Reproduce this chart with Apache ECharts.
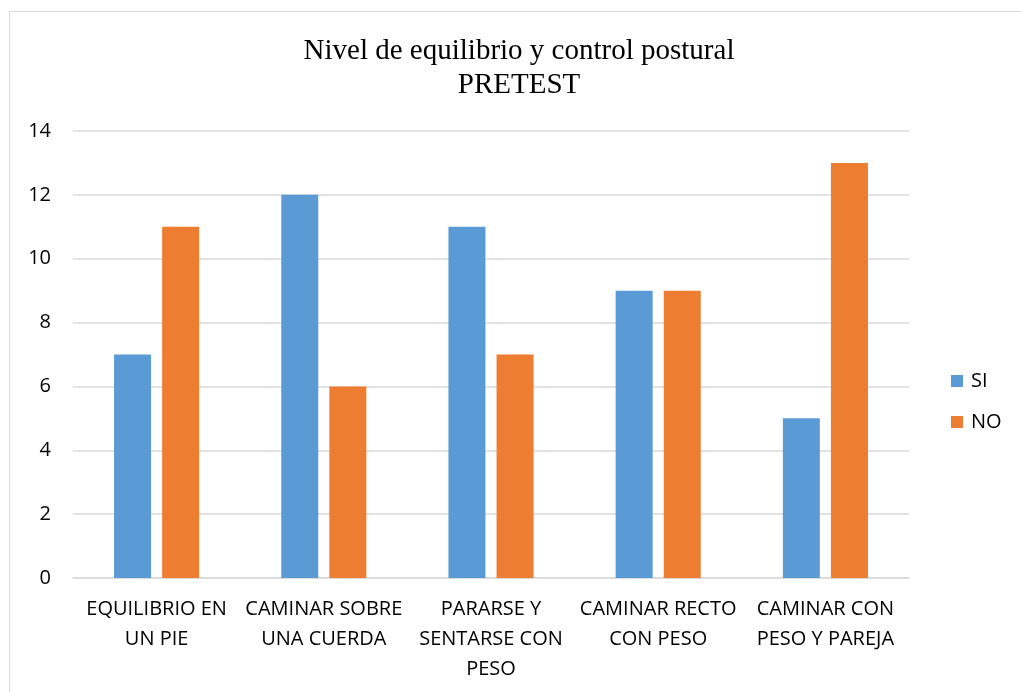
<!DOCTYPE html>
<html>
<head>
<meta charset="utf-8">
<script src="https://cdn.jsdelivr.net/npm/echarts@6/dist/echarts.min.js"></script>
<style>
  html, body { margin: 0; padding: 0; background: #fff; overflow: hidden; }
  #frame { position: absolute; left: 9px; top: 11px; width: 1200px; height: 900px; border: 1px solid #d9d9d9; }
  #chart { position: absolute; left: 0; top: 0; width: 1021px; height: 692px; }
</style>
</head>
<body>
<div id="frame"></div>
<div id="chart"></div>
<script>
const categories = [
  'EQUILIBRIO EN\nUN PIE',
  'CAMINAR SOBRE\nUNA CUERDA',
  'PARARSE Y\nSENTARSE CON\nPESO',
  'CAMINAR RECTO\nCON PESO',
  'CAMINAR CON\nPESO Y PAREJA'
];
const siValues = [7, 12, 11, 9, 5];
const noValues = [11, 6, 7, 9, 13];

const labelFont = '"Open Sans", "Liberation Sans", sans-serif';

const chart = echarts.init(document.getElementById('chart'));

chart.setOption({
  animation: false,
  backgroundColor: 'transparent',
  textStyle: { fontFamily: labelFont },
  title: {
    text: 'Nivel de equilibrio y control postural\nPRETEST',
    left: 514,
    top: 29,
    textAlign: 'center',
    textStyle: {
      fontFamily: '"Liberation Serif", "DejaVu Serif", serif',
      fontWeight: 'normal',
      fontSize: 29,
      lineHeight: 34,
      color: '#000'
    }
  },
  legend: {
    orient: 'vertical',
    left: 946,
    top: 366,
    itemWidth: 12,
    itemHeight: 12,
    itemGap: 21,
    icon: 'rect',
    textStyle: { fontSize: 20, color: '#000', fontFamily: labelFont, padding: [0, 0, 0, 3] }
  },
  grid: { left: 73, right: 112, top: 131, bottom: 114, containLabel: false },
  xAxis: {
    type: 'category',
    data: categories,
    axisLine: { show: true, lineStyle: { color: '#d9d9d9', width: 1.5 } },
    axisTick: { show: false },
    axisLabel: {
      interval: 0,
      fontSize: 20,
      lineHeight: 30,
      color: '#000',
      margin: 16,
      fontFamily: labelFont
    }
  },
  yAxis: {
    type: 'value',
    min: 0,
    max: 14,
    interval: 2,
    axisLine: { show: false },
    axisTick: { show: false },
    splitLine: { lineStyle: { color: '#d9d9d9', width: 1.5 } },
    axisLabel: { fontSize: 20, color: '#000', margin: 22, fontFamily: labelFont }
  },
  series: [
    {
      name: 'SI',
      type: 'bar',
      data: siValues,
      barWidth: 37,
      barGap: '30%',
      itemStyle: { color: '#5b9bd5' }
    },
    {
      name: 'NO',
      type: 'bar',
      data: noValues,
      barWidth: 37,
      itemStyle: { color: '#ed7d31' }
    }
  ]
});
</script>
</body>
</html>
